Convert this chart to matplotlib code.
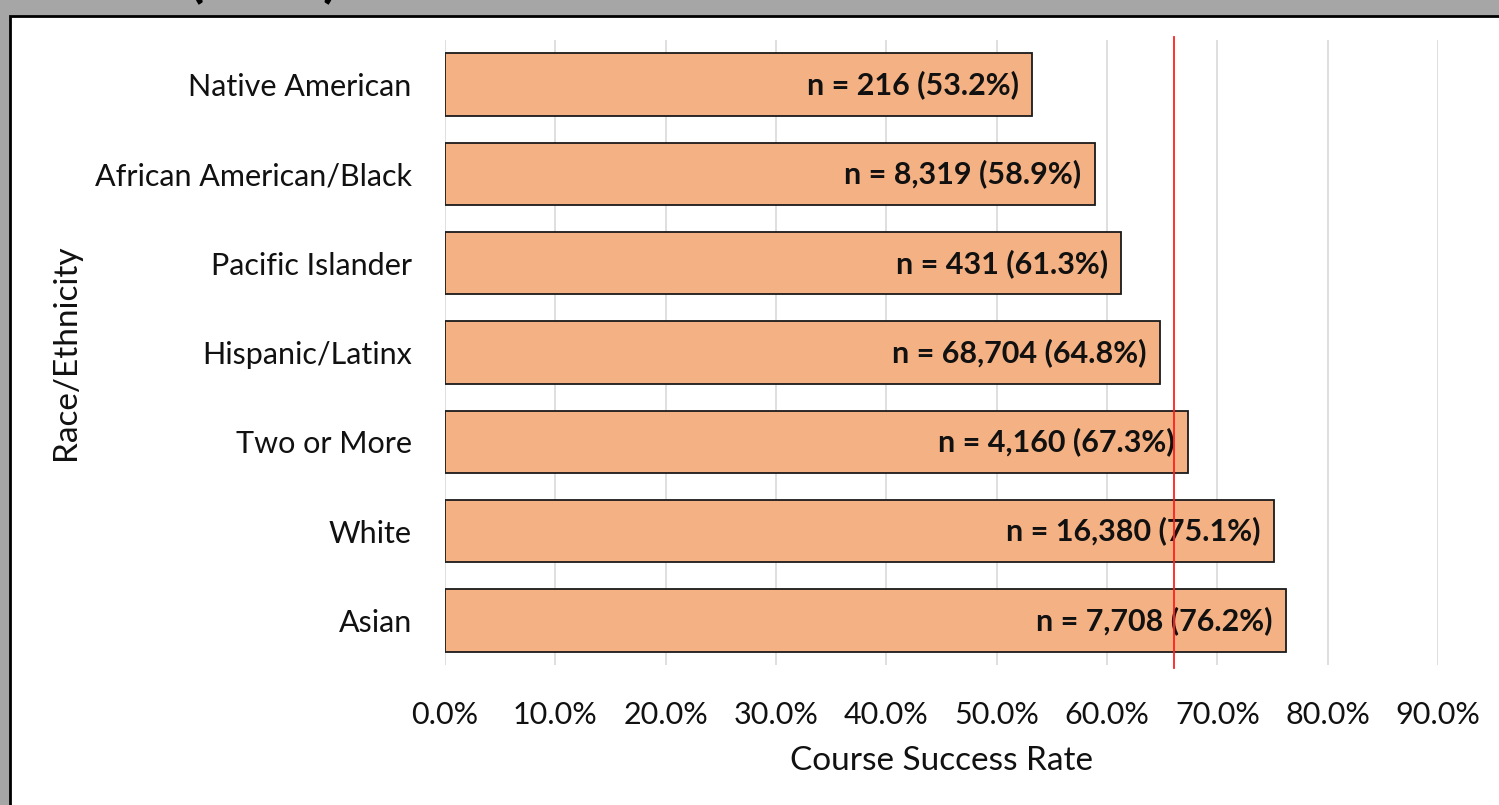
import matplotlib.pyplot as plt
from matplotlib.patches import Rectangle
from matplotlib.ticker import PercentFormatter

plt.rcParams['font.family'] = ['Lato', 'DejaVu Sans']

groups = ['Native American', 'African American/Black', 'Pacific Islander',
          'Hispanic/Latinx', 'Two or More', 'White', 'Asian']
rates = [0.532, 0.589, 0.613, 0.648, 0.673, 0.751, 0.762]
counts = ['216', '8,319', '431', '68,704', '4,160', '16,380', '7,708']
overall_rate = 0.661
xticks = [0.0, 0.1, 0.2, 0.3, 0.4, 0.5, 0.6, 0.7, 0.8, 0.9]

W, H = 1499, 805
fig = plt.figure(figsize=(W / 100, H / 100), dpi=100)
fig.patch.set_facecolor('#a6a6a6')

# white chart panel, cut off on the right and bottom
fig.patches.append(Rectangle((10 / W, -0.1), 1.2, (H - 16) / H + 0.1,
                             transform=fig.transFigure, facecolor='white',
                             edgecolor='black', linewidth=2, zorder=0))

# title is cut off above the picture; only its parentheses show
fig.text(197 / W, 1.0 + 0.005, '(', fontsize=40, fontweight='bold', va='baseline', ha='center')
fig.text(330 / W, 1.0 + 0.005, ')', fontsize=40, fontweight='bold', va='baseline', ha='center')

ax = fig.add_axes([445 / W, 140 / H, (1438 - 445) / W, 625 / H])
ax.set_zorder(2)
ax.set_facecolor('none')

ypos = list(range(len(groups)))[::-1]
ax.barh(ypos, rates, height=0.7, color='#f4b183', edgecolor='#1a1a1a', linewidth=1.3, zorder=2)

for y, r, n in zip(ypos, rates, counts):
    ax.text(r - 0.012, y, f'n = {n} ({r * 100:.1f}%)', ha='right', va='center',
            fontsize=22, fontweight='bold', color='#111111', zorder=3)

ax.axvline(overall_rate, ymin=-0.005, ymax=1.005, color='#ff2020', linewidth=1.3,
           zorder=4, clip_on=False)

ax.set_xlim(0, 0.9)
ax.set_ylim(-0.5, len(groups) - 0.5)
ax.set_xticks(xticks)
ax.xaxis.set_major_formatter(PercentFormatter(1.0, decimals=1))
ax.set_yticks(ypos)
ax.set_yticklabels(groups)
ax.grid(axis='x', color='#d9d9d9', linewidth=1.2, zorder=0)
ax.set_axisbelow(True)
for s in ax.spines.values():
    s.set_visible(False)
ax.tick_params(axis='both', length=0, labelsize=22, colors='#111111')
ax.tick_params(axis='x', pad=26)
ax.tick_params(axis='y', pad=24)

ax.set_xlabel('Course Success Rate', fontsize=24, labelpad=12, color='#111111')
ax.set_ylabel('Race/Ethnicity', fontsize=24, labelpad=10, color='#111111')

fig.savefig('out.png', dpi=100, facecolor=fig.get_facecolor())
